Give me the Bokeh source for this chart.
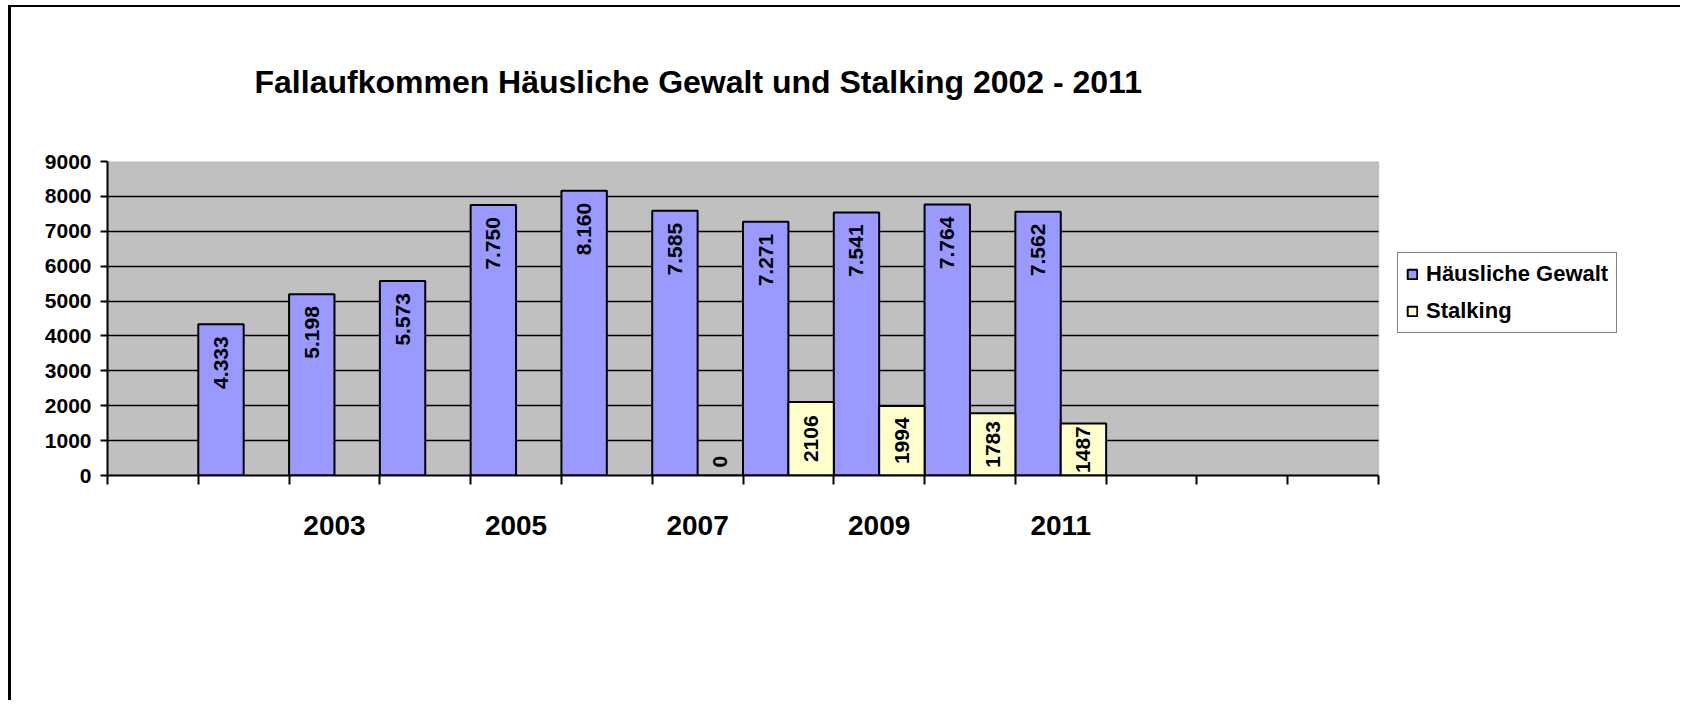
import math
from bokeh.plotting import figure
from bokeh.models import (ColumnDataSource, FixedTicker, Legend, LegendItem, Range1d,
                          BoxAnnotation, InlineStyleSheet)
from bokeh.core.properties import value
from bokeh.embed import file_html
from bokeh.resources import INLINE

chart_title = "Fallaufkommen Häusliche Gewalt und Stalking 2002 - 2011"
slots = ["", "2002", "2003", "2004", "2005", "2006", "2007", "2008",
         "2009", "2010", "2011", "", "", ""]
years = ["2002", "2003", "2004", "2005", "2006", "2007", "2008", "2009", "2010", "2011"]
gewalt = [4333, 5198, 5573, 7750, 8160, 7585, 7271, 7541, 7764, 7562]
stalking_years = ["2007", "2008", "2009", "2010", "2011"]
stalking = [0, 2106, 1994, 1783, 1487]
y_ticks = [0, 1000, 2000, 3000, 4000, 5000, 6000, 7000, 8000, 9000]
series_names = ["Häusliche Gewalt", "Stalking"]
colors = ["#9999FF", "#FFFFCC"]

FONT = "Liberation Sans"

# layout (pixels)
W, H = 1680, 700
ML, MT = 107, 161         # frame left / top
PLOT_W, PLOT_H = 1271, 314
MR = 15
frame_w = W - ML - MR
n = len(slots)
x_end = n * frame_w / PLOT_W

p = figure(width=W, height=H, output_backend="svg", toolbar_location=None,
           x_range=Range1d(0, x_end), y_range=Range1d(0, 9000),
           min_border_left=ML, min_border_right=MR, min_border_top=MT,
           min_border_bottom=H - MT - PLOT_H)
# outer chart border (left and top edges) painted behind a transparent border area
p.stylesheets = [InlineStyleSheet(css=(
    ":host { background-color: white;"
    " background-image: linear-gradient(#000, #000), linear-gradient(#000, #000);"
    " background-size: 3px 100%, 100% 2px;"
    " background-position: 8px 5px, 8px 5px;"
    " background-repeat: no-repeat; }"
))]
p.background_fill_color = "white"
p.border_fill_alpha = 0
p.outline_line_color = None

plot_area = BoxAnnotation(left=0, right=n, bottom=0, top=9000,
                          fill_color="#C0C0C0", fill_alpha=1,
                          line_color="#808080", line_width=1.5, level="image")
p.add_layout(plot_area)

# title
p.title.text = chart_title
p.title.text_font = FONT
p.title.text_font_size = "32px"
p.title.text_font_style = "bold"
p.title.text_color = "black"
p.title.align = "left"
p.title.offset = 147
p.title.standoff = 123

# grid
p.xgrid.grid_line_color = None
p.ygrid.ticker = FixedTicker(ticks=y_ticks)
p.ygrid.grid_line_color = "black"
p.ygrid.grid_line_width = 1.5
try:
    p.ygrid.cross_bounds = (0, n)
except Exception:
    pass

# y axis
ya = p.yaxis[0]
ya.ticker = FixedTicker(ticks=y_ticks)
ya.axis_line_color = "black"
ya.axis_line_width = 2
ya.major_tick_line_width = 2
ya.major_tick_in = 0
ya.major_tick_out = 7
ya.minor_tick_line_color = None
ya.major_label_text_font = FONT
ya.major_label_text_font_size = "21px"
ya.major_label_text_font_style = "bold"
ya.major_label_text_color = "black"
ya.major_label_standoff = 9

# x axis: labels at every second category centre, ticks at category edges
centres = [i + 0.5 for i in range(0, n, 2)]
edges = list(range(0, n + 1))
xa = p.xaxis[0]
xa.bounds = (0, n)
xa.ticker = FixedTicker(ticks=centres, minor_ticks=edges)
xa.major_label_overrides = {i + 0.5: slots[i] for i in range(0, n, 2)}
xa.axis_line_color = "black"
xa.axis_line_width = 2
xa.major_tick_line_color = None
xa.major_tick_in = 0
xa.major_tick_out = 0
xa.minor_tick_line_color = "black"
xa.minor_tick_line_width = 2
xa.minor_tick_in = 0
xa.minor_tick_out = 9
xa.major_label_text_font = FONT
xa.major_label_text_font_size = "28px"
xa.major_label_text_font_style = "bold"
xa.major_label_text_color = "black"
xa.major_label_standoff = 31

# data sources
gx = [slots.index(y) + 0.25 for y in years]
sx = [slots.index(y) + 0.75 for y in stalking_years]
src_g = ColumnDataSource(dict(x=gx, top=gewalt,
                              label=[f"{v:,}".replace(",", ".") for v in gewalt]))
src_s = ColumnDataSource(dict(x=sx, top=stalking, label=[str(v) for v in stalking]))
src_s_pos = ColumnDataSource(dict(x=[x for x, v in zip(sx, stalking) if v > 0],
                                  y=[v / 2 for v in stalking if v > 0],
                                  label=[str(v) for v in stalking if v > 0]))
src_s_zero = ColumnDataSource(dict(x=[x for x, v in zip(sx, stalking) if v == 0],
                                   y=[v for v in stalking if v == 0],
                                   label=[str(v) for v in stalking if v == 0]))

rg = p.vbar(x="x", top="top", width=0.5, bottom=0, source=src_g,
            fill_color=colors[0], line_color="black", line_width=2)
rs = p.vbar(x="x", top="top", width=0.5, bottom=0, source=src_s,
            fill_color=colors[1], line_color="black", line_width=2)

p.text(x="x", y="top", text="label", source=src_g, angle=math.pi / 2,
       text_align="right", text_baseline="middle", y_offset=12,
       text_font=value(FONT), text_font_size="21px", text_font_style="bold",
       text_color="black")
p.text(x="x", y="y", text="label", source=src_s_pos, angle=math.pi / 2,
       text_align="center", text_baseline="middle",
       text_font=value(FONT), text_font_size="21px", text_font_style="bold",
       text_color="black")
p.text(x="x", y="y", text="label", source=src_s_zero, angle=math.pi / 2,
       text_align="left", text_baseline="middle", y_offset=-8,
       text_font=value(FONT), text_font_size="21px", text_font_style="bold",
       text_color="black")

legend = Legend(items=[LegendItem(label=series_names[0], renderers=[rg]),
                       LegendItem(label=series_names[1], renderers=[rs])],
                location=(1290, 142))
legend.label_text_font = FONT
legend.label_text_font_size = "22px"
legend.label_text_font_style = "bold"
legend.label_text_color = "black"
legend.glyph_width = 12
legend.glyph_height = 12
legend.label_standoff = 8
legend.padding = 8
legend.spacing = 11
legend.margin = 0
legend.border_line_color = "black"
legend.border_line_width = 1.5
legend.background_fill_color = "white"
legend.background_fill_alpha = 1
p.add_layout(legend, "center")

open("out.html", "w").write(file_html(p, INLINE))
